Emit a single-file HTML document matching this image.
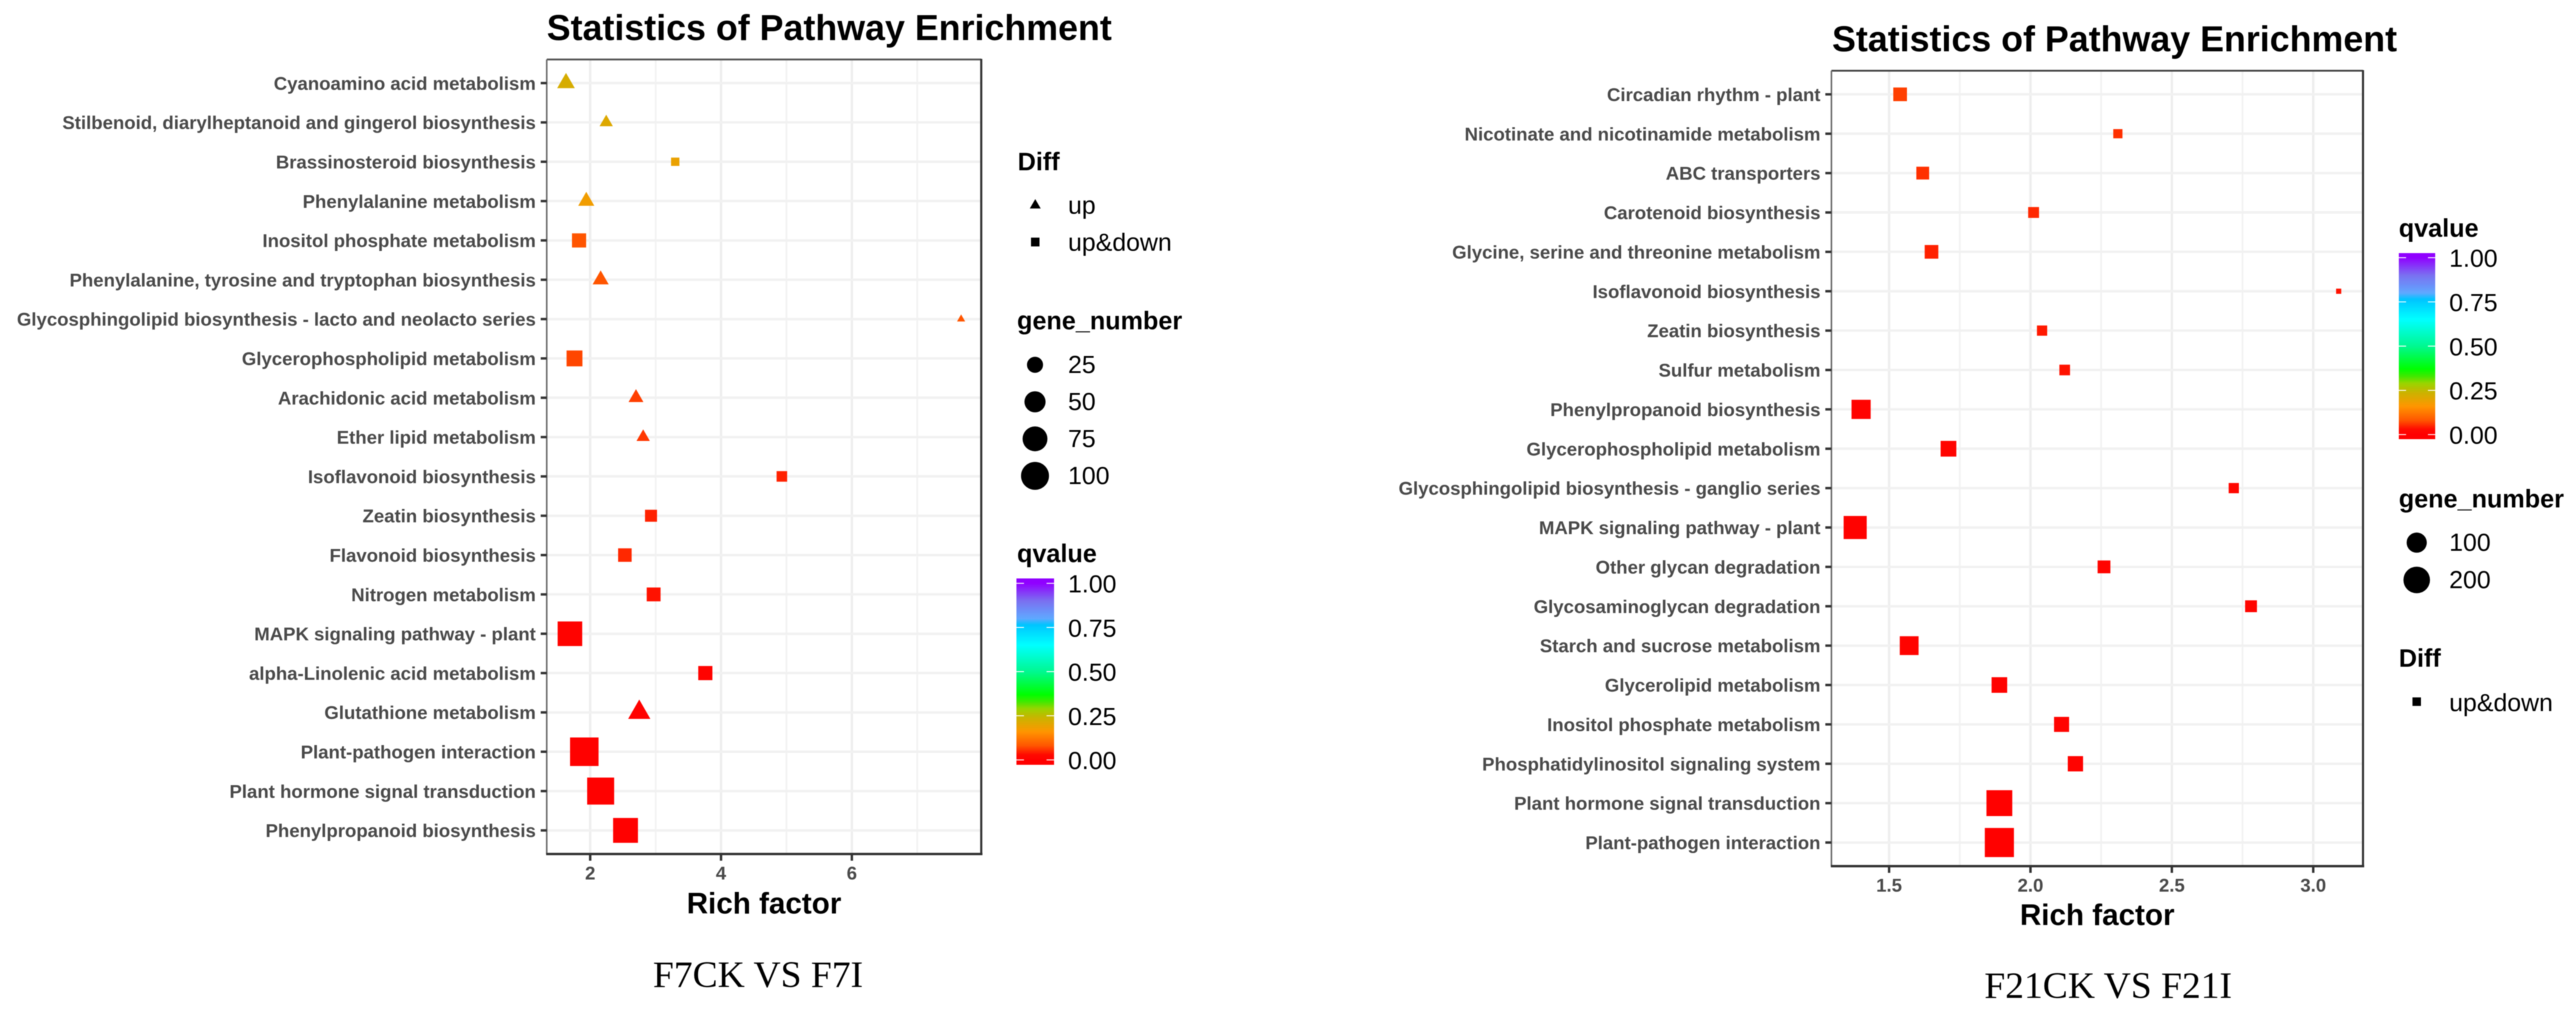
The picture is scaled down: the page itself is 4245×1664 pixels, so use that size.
<!DOCTYPE html>
<html lang="en">
<head>
<meta charset="utf-8">
<title>Statistics of Pathway Enrichment</title>
<style>
html,body{margin:0;padding:0;background:#fff;}
svg{display:block;filter:blur(0.7px);}
text{font-family:"Liberation Sans",Arial,sans-serif;}
.title{font-size:59px;font-weight:bold;fill:#000;}
.axis-title{font-size:48.8px;font-weight:bold;fill:#000;}
.cat{font-size:30.6px;font-weight:bold;fill:#4a4a4a;text-anchor:end;}
.tick{font-size:30.6px;font-weight:bold;fill:#4a4a4a;text-anchor:middle;}
.leg-title{font-size:41.5px;font-weight:bold;fill:#000;}
.leg-label{font-size:41px;fill:#000;}
.caption{font-family:"Liberation Serif","Times New Roman",serif;font-size:61.9px;fill:#000;}
</style>
</head>
<body>
<svg id="figure" xmlns="http://www.w3.org/2000/svg" width="4245" height="1664" viewBox="0 0 4245 1664">
  <rect x="0" y="0" width="4245" height="1664" fill="#ffffff"/>
  <defs id="defs"></defs>
  <text class="title" x="901" y="66">Statistics of Pathway Enrichment</text>
  <text class="title" x="3019" y="84.5">Statistics of Pathway Enrichment</text>
  <text class="axis-title" x="1259" y="1505" text-anchor="middle">Rich factor</text>
  <text class="axis-title" x="3456" y="1524" text-anchor="middle">Rich factor</text>
  <text class="caption" x="1076" y="1626">F7CK VS F7I</text>
  <text class="caption" x="3270" y="1644">F21CK VS F21I</text>

  <text class="leg-title" x="1677" y="280.5">Diff</text>
  <text class="leg-title" x="1676" y="542.5">gene_number</text>
  <text class="leg-title" x="1676" y="926">qvalue</text>
  <text class="leg-title" x="3953" y="390">qvalue</text>
  <text class="leg-title" x="3953" y="836">gene_number</text>
  <text class="leg-title" x="3953" y="1098.5">Diff</text>

  <polygon points="1697,343.5 1715,343.5 1706,328" fill="#000"/>
  <text class="leg-label" x="1760" y="352">up</text>
  <rect x="1699" y="391.5" width="14" height="14.5" fill="#000"/>
  <text class="leg-label" x="1760" y="413">up&amp;down</text>
  <rect x="3975.5" y="1149" width="14" height="14" fill="#000"/>
  <text class="leg-label" x="4036" y="1171.5">up&amp;down</text>
</svg>

<script>
// ---------- F7CK VS F7I data ----------
const leftCategories = [
  "Cyanoamino acid metabolism",
  "Stilbenoid, diarylheptanoid and gingerol biosynthesis",
  "Brassinosteroid biosynthesis",
  "Phenylalanine metabolism",
  "Inositol phosphate metabolism",
  "Phenylalanine, tyrosine and tryptophan biosynthesis",
  "Glycosphingolipid biosynthesis - lacto and neolacto series",
  "Glycerophospholipid metabolism",
  "Arachidonic acid metabolism",
  "Ether lipid metabolism",
  "Isoflavonoid biosynthesis",
  "Zeatin biosynthesis",
  "Flavonoid biosynthesis",
  "Nitrogen metabolism",
  "MAPK signaling pathway - plant",
  "alpha-Linolenic acid metabolism",
  "Glutathione metabolism",
  "Plant-pathogen interaction",
  "Plant hormone signal transduction",
  "Phenylpropanoid biosynthesis"
];
const leftRichFactor = [1.63,2.245,3.30,1.94,1.83,2.16,7.67,1.76,2.70,2.81,4.93,2.93,2.53,2.97,1.69,3.76,2.75,1.91,2.16,2.54];
const leftGeneNumber = [15,8,6,12,18,12,5,24,10,8,9,12,16,17,73,18,27,105,92,75];
const leftQvalue = [0.22,0.21,0.19,0.18,0.08,0.08,0.08,0.07,0.065,0.06,0.045,0.045,0.05,0.035,0.01,0.01,0.005,0.002,0.002,0.002];
const leftDiff = ["up","up","both","up","both","up","up","both","up","up","both","both","both","both","both","both","up","both","both","both"];
const leftXTicks = [2,4,6];
const leftXTickLabels = ["2","4","6"];
const leftGeneLegend = [25,50,75,100];

// ---------- F21CK VS F21I data ----------
const rightCategories = [
  "Circadian rhythm - plant",
  "Nicotinate and nicotinamide metabolism",
  "ABC transporters",
  "Carotenoid biosynthesis",
  "Glycine, serine and threonine metabolism",
  "Isoflavonoid biosynthesis",
  "Zeatin biosynthesis",
  "Sulfur metabolism",
  "Phenylpropanoid biosynthesis",
  "Glycerophospholipid metabolism",
  "Glycosphingolipid biosynthesis - ganglio series",
  "MAPK signaling pathway - plant",
  "Other glycan degradation",
  "Glycosaminoglycan degradation",
  "Starch and sucrose metabolism",
  "Glycerolipid metabolism",
  "Inositol phosphate metabolism",
  "Phosphatidylinositol signaling system",
  "Plant hormone signal transduction",
  "Plant-pathogen interaction"
];
const rightRichFactor = [1.539,2.309,1.619,2.011,1.65,3.09,2.041,2.121,1.401,1.71,2.719,1.38,2.26,2.78,1.571,1.89,2.11,2.159,1.89,1.89];
const rightGeneNumber = [34,10,28,17,34,3,14,16,87,51,14,141,28,22,83,50,45,47,187,250];
const rightQvalue = [0.065,0.055,0.055,0.05,0.045,0.035,0.04,0.035,0.008,0.012,0.02,0.005,0.012,0.015,0.008,0.008,0.01,0.008,0.002,0.002];
const rightDiff = ["both","both","both","both","both","both","both","both","both","both","both","both","both","both","both","both","both","both","both","both"];
const rightXTicks = [1.5,2.0,2.5,3.0];
const rightXTickLabels = ["1.5","2.0","2.5","3.0"];
const rightGeneLegend = [100,200];

// ---------- colour legend data ----------
const qLegendTicks = [1,0.75,0.5,0.25,0];
const qLegendTickLabels = ["1.00","0.75","0.50","0.25","0.00"];
const qStopValues = [0,0.03,0.08,0.16,0.24,0.29,0.33,0.37,0.5,0.65,0.765,0.8,0.9,1];
const qStopColors = ["#ff0000","#ff0a00","#ff5500","#ff9500","#c8b400","#98d400","#40e800","#00ff00","#00f890","#00ffff","#00c4ff","#5fa8ff","#7a70f0","#9000ff"];

const SVG_NS = "http://www.w3.org/2000/svg";
const svg = document.getElementById("figure");
const defs = document.getElementById("defs");

function make(tag, parent) {
  const el = document.createElementNS(SVG_NS, tag);
  parent.appendChild(el);
  return el;
}
function line(parent, x1, y1, x2, y2, color, width) {
  const el = make("line", parent);
  el.setAttribute("x1", x1);
  el.setAttribute("y1", y1);
  el.setAttribute("x2", x2);
  el.setAttribute("y2", y2);
  el.setAttribute("stroke", color);
  el.setAttribute("stroke-width", width);
  return el;
}
function label(parent, x, y, str, cls) {
  const el = make("text", parent);
  el.setAttribute("x", x);
  el.setAttribute("y", y);
  el.setAttribute("class", cls);
  el.textContent = str;
  return el;
}
function hexToRgb(h) {
  return [parseInt(h.slice(1,3),16), parseInt(h.slice(3,5),16), parseInt(h.slice(5,7),16)];
}
function qColor(q) {
  let i = 0;
  while (i < qStopValues.length - 2 && q > qStopValues[i + 1]) i++;
  const t = Math.max(0, Math.min(1, (q - qStopValues[i]) / (qStopValues[i + 1] - qStopValues[i])));
  const a = hexToRgb(qStopColors[i]);
  const b = hexToRgb(qStopColors[i + 1]);
  const c = a.map((v, k) => Math.round(v + (b[k] - v) * t));
  return "rgb(" + c.join(",") + ")";
}
function sizeScale(cfg) {
  return function (g) {
    const t = Math.max(0, (g - cfg.geneMin) / (cfg.geneMax - cfg.geneMin));
    return cfg.sizeMin + (cfg.sizeMax - cfg.sizeMin) * Math.sqrt(t);
  };
}

function drawChart(cfg) {
  const xScale = v => cfg.left + (v - cfg.xMin) / (cfg.xMax - cfg.xMin) * (cfg.right - cfg.left);
  const step = (cfg.bottom - cfg.top) / (cfg.categories.length - 1 + 1.2);
  const yScale = i => cfg.top + (i + 0.6) * step;
  const size = sizeScale(cfg);

  const grid = make("g", svg);
  
  
  cfg.ticks.forEach((t, i) => {
    const major = line(grid, xScale(t), cfg.top, xScale(t), cfg.bottom, "#eeeeee", 4);
    
    
    const next = i < cfg.ticks.length - 1 ? cfg.ticks[i + 1] : t + (t - cfg.ticks[i - 1]);
    const mid = (t + next) / 2;
    if (mid < cfg.xMax) {
      const minor = line(grid, xScale(mid), cfg.top, xScale(mid), cfg.bottom, "#f3f3f3", 3);
      
      
    }
  });
  cfg.categories.forEach((c, i) => {
    const gl = line(grid, cfg.left, yScale(i), cfg.right, yScale(i), "#f1f1f1", 4);
    
    
  });

  const marks = make("g", svg);
  
  
  cfg.categories.forEach((c, i) => {
    const cx = xScale(cfg.rich[i]);
    const cy = yScale(i);
    const d = size(cfg.genes[i]);
    const fill = qColor(cfg.q[i]);
    let mark;
    if (cfg.diff[i] === "up") {
      const xc = d / 2;
      mark = make("polygon", marks);
      mark.setAttribute("points",
        (cx - 1.34 * xc) + "," + (cy + 0.775 * xc) + " " +
        (cx + 1.34 * xc) + "," + (cy + 0.775 * xc) + " " +
        cx + "," + (cy - 1.55 * xc));
    } else {
      mark = make("rect", marks);
      mark.setAttribute("x", cx - d / 2);
      mark.setAttribute("y", cy - d / 2);
      mark.setAttribute("width", d);
      mark.setAttribute("height", d);
    }
    mark.setAttribute("fill", fill);
    
    
  });

  const frame = make("g", svg);
  
  
  line(frame, cfg.left, cfg.top, cfg.right, cfg.top, cfg.topColor, cfg.topWidth);
  line(frame, cfg.left, cfg.top, cfg.left, cfg.bottom, "#666666", 2.5);
  line(frame, cfg.right, cfg.top - 1, cfg.right, cfg.bottom + 2, "#333333", 3.5);
  line(frame, cfg.left - 1, cfg.bottom, cfg.right + 2, cfg.bottom, "#333333", 4);

  const yAxis = make("g", svg);
  
  
  cfg.categories.forEach((c, i) => {
    const tk = line(yAxis, cfg.left - 10, yScale(i), cfg.left, yScale(i), "#333333", 4);
    
    
    const t = label(yAxis, cfg.left - 18, yScale(i) + 11, c, "cat");
    
    
  });

  const xAxis = make("g", svg);
  
  
  cfg.ticks.forEach((v, i) => {
    const tk = line(xAxis, xScale(v), cfg.bottom, xScale(v), cfg.bottom + 11, "#333333", 4);
    
    
    const t = label(xAxis, xScale(v), cfg.bottom + 42, cfg.tickLabels[i], "tick");
    
    
  });

  // gene_number legend
  const gLegend = make("g", svg);
  
  
  cfg.geneLegend.forEach((g, i) => {
    const cy = cfg.geneLegendY + i * cfg.geneLegendStep;
    const circle = make("circle", gLegend);
    circle.setAttribute("cx", cfg.symbolX);
    circle.setAttribute("cy", cy);
    circle.setAttribute("r", size(g) / 2);
    circle.setAttribute("fill", "#000");
    
    
    const t = label(gLegend, cfg.legendLabelX, cy + 13.5, String(g), "leg-label");
    
    
  });

  // qvalue colour bar
  const barH = cfg.barBottom - cfg.barTop;
  const pad = cfg.barPad;
  const grad = make("linearGradient", defs);
  grad.setAttribute("id", cfg.id + "-q-gradient");
  grad.setAttribute("x1", "0");
  grad.setAttribute("y1", "1");
  grad.setAttribute("x2", "0");
  grad.setAttribute("y2", "0");
  qStopValues.forEach((v, i) => {
    const s = make("stop", grad);
    s.setAttribute("offset", (pad + v * (barH - 2 * pad)) / barH);
    s.setAttribute("stop-color", qStopColors[i]);
  });
  const qLegend = make("g", svg);
  
  
  const bar = make("rect", qLegend);
  bar.setAttribute("x", cfg.barX);
  bar.setAttribute("y", cfg.barTop);
  bar.setAttribute("width", cfg.barW);
  bar.setAttribute("height", barH);
  bar.setAttribute("fill", "url(#" + cfg.id + "-q-gradient)");
  
  
  qLegendTicks.forEach((v, i) => {
    const y = cfg.barBottom - pad - v * (barH - 2 * pad);
    const a = line(qLegend, cfg.barX, y, cfg.barX + cfg.barW * 0.2, y, "#ffffff", 1.5);
    
    
    const b = line(qLegend, cfg.barX + cfg.barW * 0.8, y, cfg.barX + cfg.barW, y, "#ffffff", 1.5);
    
    
    const t = label(qLegend, cfg.legendLabelX, y + 15, qLegendTickLabels[i], "leg-label");
    
    
  });
}

drawChart({
  id: "left-chart",
  categories: leftCategories, rich: leftRichFactor, genes: leftGeneNumber, q: leftQvalue, diff: leftDiff,
  ticks: leftXTicks, tickLabels: leftXTickLabels, geneLegend: leftGeneLegend,
  left: 901, right: 1617, top: 98, bottom: 1407, xMin: 1.336, xMax: 7.978,
  geneMin: 5, geneMax: 105, sizeMin: 10, sizeMax: 47,
  topColor: "#555555", topWidth: 3,
  symbolX: 1705.6, legendLabelX: 1760, geneLegendY: 601, geneLegendStep: 61,
  barX: 1675, barW: 62, barTop: 953, barBottom: 1260, barPad: 8
});
drawChart({
  id: "right-chart",
  categories: rightCategories, rich: rightRichFactor, genes: rightGeneNumber, q: rightQvalue, diff: rightDiff,
  ticks: rightXTicks, tickLabels: rightXTickLabels, geneLegend: rightGeneLegend,
  left: 3018, right: 3894, top: 116.5, bottom: 1427, xMin: 1.296, xMax: 3.176,
  geneMin: 3, geneMax: 250, sizeMin: 8.5, sizeMax: 48,
  topColor: "#444444", topWidth: 3,
  symbolX: 3982.5, legendLabelX: 4036, geneLegendY: 894, geneLegendStep: 61.5,
  barX: 3953, barW: 60, barTop: 417, barBottom: 723.5, barPad: 7.5
});
</script>
</body>
</html>
